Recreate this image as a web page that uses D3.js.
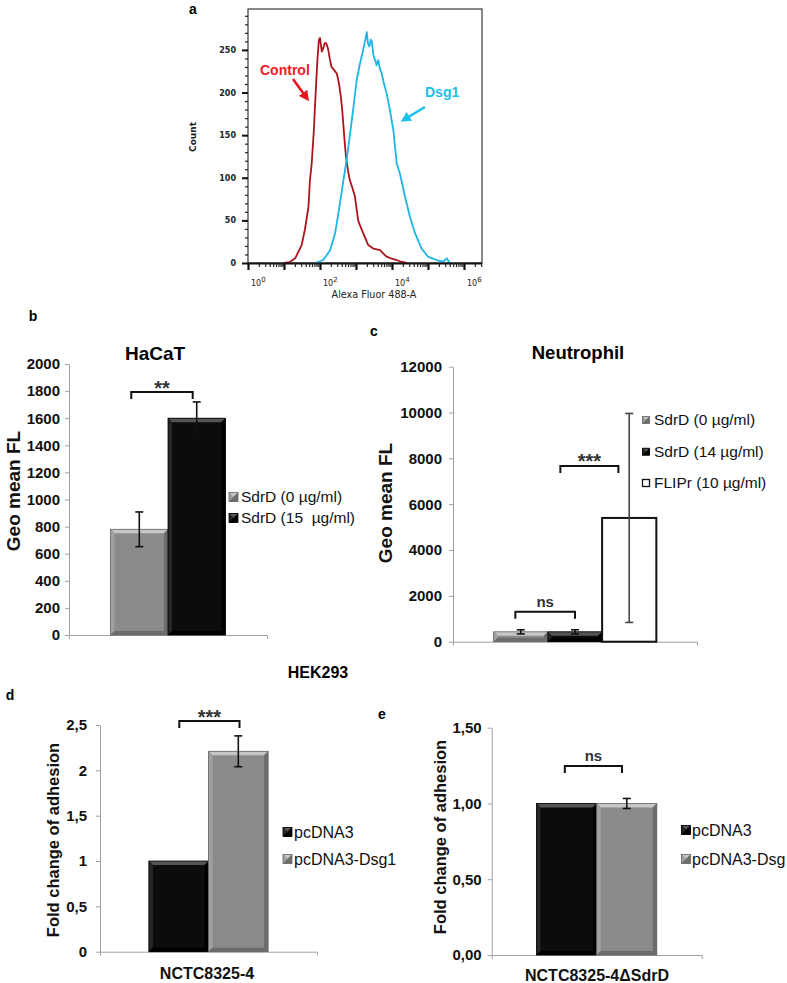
<!DOCTYPE html>
<html><head><meta charset="utf-8">
<script src="https://cdn.jsdelivr.net/npm/d3@7"></script>
<style>body{margin:0;background:#fff}svg{display:block}</style>
</head><body>
<svg id="chart" width="787" height="983"></svg>
<script>
// ---------------- DATA ----------------
// Panel a : flow cytometry histograms (log10 of fluorescence, count)
const controlLog   = [1.0,1.15,1.31,1.49,1.58,1.68,1.72,1.77,1.83,1.88,1.93,1.97,2.0,2.05,2.09,2.13,2.17,2.22,2.27,2.32,2.4,2.47,2.53,2.58,2.62,2.67,2.72,2.78,2.83,2.9,2.97,3.06,3.13,3.2,3.34,3.48,3.58,3.67,3.76,3.85,4.0,4.13,4.25,4.41];
const controlCount = [0,1,5.5,21,39,66,97,117,156,200,240,262,264,248,252,258,258,252,240,230,226,222,210,195,178,150,125,108,97,88,78,50,42,35,21,17,16,15,11,7.4,5,3.5,1.5,0];
const dsg1Log      = [1.86,2.09,2.28,2.42,2.51,2.65,2.74,2.83,2.93,3.02,3.11,3.2,3.26,3.3,3.33,3.37,3.41,3.44,3.48,3.51,3.55,3.57,3.6,3.62,3.66,3.71,3.78,3.85,3.94,4.04,4.13,4.18,4.22,4.36,4.5,4.64,4.82,5.0,5.24,5.43,5.48,5.52,5.56,5.61];
const dsg1Count    = [0,3.5,15,35,58,97,121,150,183,215,234,250,262,271,258,254,262,260,245,240,236,232,236,238,228,223,210,199,180,155,117,110,105,78,54,35,17,7.4,3.5,1.5,4,5.5,3,0];
const histYTicks   = [0,50,100,150,200,250];
const histXDecades = [0,1,2,3,4,5,6];
const histXLabels  = [0,2,4,6];

// Panel b : HaCaT
const hacatSeries = ["SdrD (0 µg/ml)", "SdrD (15  µg/ml)"];
const hacatValues = [780, 1600];
const hacatErrors = [128, 120];
const hacatTicks  = [0,200,400,600,800,1000,1200,1400,1600,1800,2000];

// Panel c : Neutrophil
const neutroSeries = ["SdrD (0 µg/ml)", "SdrD (14 µg/ml)", "FLIPr (10 µg/ml)"];
const neutroValues = [430, 430, 5400];
const neutroErrors = [90, 90, 4560];
const neutroTicks  = [0,2000,4000,6000,8000,10000,12000];

// Panel d : HEK293, NCTC8325-4
const dSeries = ["pcDNA3", "pcDNA3-Dsg1"];
const dValues = [1.0, 2.21];
const dErrors = [0, 0.17];
const dTicks  = [0,0.5,1,1.5,2,2.5];

// Panel e : HEK293, NCTC8325-4ΔSdrD
const eSeries = ["pcDNA3", "pcDNA3-Dsg"];
const eValues = [1.0, 1.0];
const eErrors = [0, 0.033];
const eTicks  = [0,0.5,1,1.5];

// ---------------- DRAWING ----------------
const svg = d3.select("#chart");
const XF = "'Liberation Sans', Arial, sans-serif";
const FF = "'DejaVu Sans', Verdana, sans-serif";

const STYLE = {
  gray:  {fill:"#8b8b8b", light:"#c6c6c6", dark:"#6c6c6c", stroke:"#666"},
  black: {fill:"#0c0c0c", light:"#555555", dark:"#000000", stroke:"#000"},
  white: {fill:"#ffffff", light:"#ffffff", dark:"#ffffff", stroke:"#111"}
};

function letter(t, x, y) {
  svg.append("text").attr("x", x).attr("y", y).attr("dy", "0.35em")
    .attr("text-anchor", "middle").attr("font-family", XF).attr("font-weight", "bold")
    .attr("font-size", 14).text(t);
}

// ---- Panel a ----
(function histogram() {
  const hx = d3.scaleLinear().domain([0, 6.5]).range([248, 482]);
  const hy = d3.scaleLinear().domain([0, 298]).range([263, 9]);
  const g = svg.append("g");

  g.append("rect").attr("x", hx(0)).attr("y", hy(298)).attr("width", hx(6.5) - hx(0))
    .attr("height", hy(0) - hy(298)).attr("fill", "none").attr("stroke", "#3a3a3a").attr("stroke-width", 1.2);

  const yMinor = d3.range(0, 300, 10);
  g.append("g").attr("transform", `translate(${hx(0)},0)`)
    .call(d3.axisLeft(hy).tickValues(yMinor).tickSize(3).tickSizeOuter(0).tickFormat(""))
    .call(s => s.select(".domain").remove())
    .call(s => s.selectAll("line").attr("stroke", "#222").attr("stroke-width", 1.2));
  g.append("g").attr("transform", `translate(${hx(0)},0)`)
    .call(d3.axisLeft(hy).tickValues(histYTicks).tickSize(6).tickSizeOuter(0).tickPadding(6))
    .call(s => s.select(".domain").remove())
    .call(s => s.selectAll("line").attr("stroke", "#111").attr("stroke-width", 2))
    .call(s => s.selectAll("text").attr("font-family", FF).attr("font-weight", "bold")
      .attr("font-size", 8).attr("fill", "#222"));

  const line = d3.line().x(d => hx(d[0])).y(d => hy(d[1]));
  const ctrl = controlLog.map((v, i) => [v, controlCount[i]]);
  const dsg = dsg1Log.map((v, i) => [v, dsg1Count[i]]);
  g.append("path").datum(ctrl).attr("d", line).attr("fill", "none")
    .attr("stroke", "#a9151b").attr("stroke-width", 1.8).attr("stroke-linejoin", "round");
  g.append("path").datum(dsg).attr("d", line).attr("fill", "none")
    .attr("stroke", "#1db4e6").attr("stroke-width", 1.8).attr("stroke-linejoin", "round");

  const minors = [];
  for (let d = 0; d < 7; d++) for (let k = 2; k <= 9; k++) {
    const v = d + Math.log10(k); if (v <= 6.5) minors.push(v);
  }
  g.append("line").attr("x1", hx(0)).attr("x2", hx(6.5)).attr("y1", hy(0) + 0.5).attr("y2", hy(0) + 0.5)
    .attr("stroke", "#111").attr("stroke-width", 2);
  g.append("g").attr("transform", `translate(0,${hy(0)})`)
    .call(d3.axisBottom(hx).tickValues(minors).tickSize(4).tickSizeOuter(0).tickFormat(""))
    .call(s => s.select(".domain").remove())
    .call(s => s.selectAll("line").attr("stroke", "#222").attr("stroke-width", 1.2));
  g.append("g").attr("transform", `translate(0,${hy(0)})`)
    .call(d3.axisBottom(hx).tickValues(histXDecades).tickSize(7).tickSizeOuter(0).tickFormat(""))
    .call(s => s.select(".domain").remove())
    .call(s => s.selectAll("line").attr("stroke", "#111").attr("stroke-width", 2.2));
  histXLabels.forEach(d => {
    const t = g.append("text").attr("x", hx(d) + 3).attr("y", 286)
      .attr("font-family", FF).attr("font-size", 8).attr("fill", "#222");
    t.append("tspan").text("10");
    t.append("tspan").attr("dy", -4).attr("font-size", 7).text(d);
  });

  g.append("text").attr("transform", "translate(193,137) rotate(-90)").attr("text-anchor", "middle")
    .attr("dy", "0.35em").attr("font-family", FF).attr("font-weight", "bold").attr("font-size", 9)
    .attr("fill", "#222").text("Count");
  g.append("text").attr("x", 374).attr("y", 298).attr("text-anchor", "middle")
    .attr("font-family", FF).attr("font-size", 9.6).attr("fill", "#222").text("Alexa Fluor 488-A");

  const defs = svg.append("defs");
  [["arR", "#e8161c"], ["arB", "#1cc0ee"]].forEach(([id, c]) => {
    defs.append("marker").attr("id", id).attr("viewBox", "0 0 10 10").attr("refX", 5).attr("refY", 5)
      .attr("markerWidth", 4).attr("markerHeight", 4).attr("orient", "auto")
      .append("path").attr("d", "M0,0L10,5L0,10z").attr("fill", c);
  });
  g.append("text").attr("x", 260).attr("y", 75).attr("font-family", XF).attr("font-weight", "bold")
    .attr("font-size", 14).attr("fill", "#ee1c24").text("Control");
  g.append("line").attr("x1", 293).attr("y1", 79).attr("x2", 306).attr("y2", 97)
    .attr("stroke", "#e8161c").attr("stroke-width", 2.6).attr("marker-end", "url(#arR)");
  g.append("text").attr("x", 425).attr("y", 97).attr("font-family", XF).attr("font-weight", "bold")
    .attr("font-size", 14).attr("fill", "#1cc0ee").text("Dsg1");
  g.append("line").attr("x1", 425).attr("y1", 107).attr("x2", 405).attr("y2", 119)
    .attr("stroke", "#1cc0ee").attr("stroke-width", 2.6).attr("marker-end", "url(#arB)");
})();
letter("a", 193, 9);

// ---- Bar panels ----
function bevelBar(g, x, yTop, w, h, st, flat) {
  if (flat) {
    g.append("rect").attr("x", x).attr("y", yTop).attr("width", w).attr("height", h)
      .attr("fill", st.fill).attr("stroke", st.stroke).attr("stroke-width", 2);
    return;
  }
  const b = Math.min(4, h / 2);
  g.append("rect").attr("x", x).attr("y", yTop).attr("width", w).attr("height", h).attr("fill", st.fill);
  const mid = d3.interpolateRgb(st.fill, st.light)(0.35);
  const poly = pts => g.append("polygon").attr("points", pts.map(p => p.join(",")).join(" "));
  poly([[x, yTop], [x + w, yTop], [x + w - b, yTop + b], [x + b, yTop + b]]).attr("fill", st.light);
  poly([[x, yTop], [x + b, yTop + b], [x + b, yTop + h - b], [x, yTop + h]]).attr("fill", mid);
  poly([[x + w, yTop], [x + w, yTop + h], [x + w - b, yTop + h - b], [x + w - b, yTop + b]]).attr("fill", st.dark);
  poly([[x, yTop + h], [x + b, yTop + h - b], [x + w - b, yTop + h - b], [x + w, yTop + h]]).attr("fill", st.dark);
  g.append("rect").attr("x", x).attr("y", yTop).attr("width", w).attr("height", h)
    .attr("fill", "none").attr("stroke", st.stroke).attr("stroke-width", 0.8);
}

function barPanel(o) {
  const g = svg.append("g");
  const y = d3.scaleLinear().domain(o.domain).range([o.y0, o.y1]);
  const xg = d3.scaleBand().domain([o.category]).range([o.xL, o.xR]).paddingInner(0).paddingOuter(o.pad);
  const xs = d3.scaleBand().domain(o.series).range([xg(o.category), xg(o.category) + xg.bandwidth()]).padding(0);

  g.append("g").attr("transform", `translate(${o.xL},0)`)
    .call(d3.axisLeft(y).tickValues(o.ticks).tickFormat(o.fmt).tickSize(4).tickSizeOuter(0).tickPadding(o.tickPad))
    .call(s => s.select(".domain").attr("stroke", "#a0a0a0"))
    .call(s => s.selectAll("line").attr("stroke", "#a0a0a0"))
    .call(s => s.selectAll("text").attr("font-family", XF).attr("font-weight", "bold")
      .attr("font-size", o.tickSize).attr("fill", "#111"));
  g.append("g").attr("transform", `translate(0,${y(0)})`)
    .call(d3.axisBottom(xg).tickValues([]).tickSizeOuter(4))
    .call(s => s.select(".domain").attr("stroke", "#a0a0a0"));

  o.series.forEach((s, i) => {
    const st = STYLE[o.fills[i]];
    const yt = y(o.values[i]);
    bevelBar(g, xs(s), yt, xs.bandwidth(), y(0) - yt, st, o.fills[i] === "white");
  });
  o.series.forEach((s, i) => {
    const e = o.errors[i];
    if (!e) return;
    const cx = xs(s) + xs.bandwidth() / 2;
    const col = o.fills[i] === "white" ? "#444" : "#111";
    const hi = y(o.values[i] + e), lo = y(o.values[i] - e);
    g.append("line").attr("x1", cx).attr("x2", cx).attr("y1", hi).attr("y2", lo)
      .attr("stroke", col).attr("stroke-width", 1.6);
    [hi, lo].forEach(v => g.append("line").attr("x1", cx - 4).attr("x2", cx + 4).attr("y1", v).attr("y2", v)
      .attr("stroke", col).attr("stroke-width", 1.6));
  });
  o.brackets.forEach(b => {
    const x1 = xs(o.series[b.a]) + xs.bandwidth() * b.fa;
    const x2 = xs(o.series[b.b]) + xs.bandwidth() * b.fb;
    const yt = y(b.v);
    g.append("path").attr("d", `M${x1},${yt + 7}V${yt}H${x2}V${yt + 7}`)
      .attr("fill", "none").attr("stroke", "#111").attr("stroke-width", 2);
    const star = b.label.startsWith("*");
    g.append("text").attr("x", (x1 + x2) / 2).attr("y", star ? yt + 2.5 : yt - 5)
      .attr("text-anchor", "middle").attr("font-family", XF).attr("font-weight", "bold")
      .attr("font-size", star ? 20 : 15).attr("fill", "#333").text(b.label);
  });
  if (o.title) g.append("text").attr("x", o.title[1]).attr("y", o.title[2]).attr("text-anchor", "middle")
    .attr("dy", "0.35em").attr("font-family", XF).attr("font-weight", "bold").attr("font-size", o.title[3]).text(o.title[0]);
  g.append("text").attr("transform", `translate(${o.ylabel[1]},${o.ylabel[2]}) rotate(-90)`)
    .attr("text-anchor", "middle").attr("dy", "0.35em").attr("font-family", XF).attr("font-weight", "bold")
    .attr("font-size", o.ylabel[3]).attr("fill", "#111").text(o.ylabel[0]);
  if (o.xlabel) g.append("text").attr("x", o.xlabel[1]).attr("y", o.xlabel[2]).attr("text-anchor", "middle")
    .attr("font-family", XF).attr("font-weight", "bold").attr("font-size", o.xlabel[3]).attr("fill", "#111").text(o.xlabel[0]);
  o.series.forEach((s, i) => {
    const st = STYLE[o.fills[i]];
    const cy = o.legend.ys[i], q = o.legend.sq;
    if (o.fills[i] === "white") {
      g.append("rect").attr("x", o.legend.x).attr("y", cy - q / 2).attr("width", q).attr("height", q)
        .attr("fill", "#fff").attr("stroke", "#111").attr("stroke-width", 1.3);
    } else {
      bevelBar(g, o.legend.x, cy - q / 2, q, q, st, false);
    }
    g.append("text").attr("x", o.legend.tx).attr("y", cy).attr("dy", "0.35em").style("white-space", "pre")
      .attr("font-family", XF).attr("font-size", o.legend.size).attr("fill", "#111").text(s);
  });
}

const fmtComma = d => String(d).replace(".", ",");
const fmtComma2 = d => d3.format(".2f")(d).replace(".", ",");

barPanel({category: "HaCaT", series: hacatSeries, values: hacatValues, errors: hacatErrors,
  ticks: hacatTicks, fmt: d => d, domain: [0, 2000], y0: 635, y1: 364, xL: 69, xR: 267, pad: 0.362,
  fills: ["gray", "black"], tickPad: 5, tickSize: 15,
  title: ["HaCaT", 155, 353, 19], ylabel: ["Geo mean FL", 13, 491, 19],
  legend: {x: 229, ys: [497, 518], sq: 9, tx: 241, size: 15.5},
  brackets: [{a: 0, fa: 0.36, b: 1, fb: 0.43, v: 1793, label: "**"}]});
letter("b", 33, 316);

barPanel({category: "Neutrophil", series: neutroSeries, values: neutroValues, errors: neutroErrors,
  ticks: neutroTicks, fmt: d => d, domain: [0, 12000], y0: 641.7, y1: 366.7, xL: 453, xR: 697, pad: 0.25,
  fills: ["gray", "black", "white"], tickPad: 7, tickSize: 15,
  title: ["Neutrophil", 578, 353, 18.5], ylabel: ["Geo mean FL", 385, 503, 19],
  legend: {x: 642.5, ys: [420, 451.7, 483], sq: 7, tx: 654, size: 15.5},
  brackets: [{a: 0, fa: 0.4, b: 1, fb: 0.5, v: 1309, label: "ns"},
             {a: 1, fa: 0.23, b: 2, fb: 0.3, v: 7667, label: "***"}]});
letter("c", 374, 331);

svg.append("text").attr("x", 318).attr("y", 672).attr("dy", "0.35em").attr("text-anchor", "middle")
  .attr("font-family", XF).attr("font-weight", "bold").attr("font-size", 16).text("HEK293");

barPanel({category: "NCTC8325-4", series: dSeries, values: dValues, errors: dErrors,
  ticks: dTicks, fmt: fmtComma, domain: [0, 2.5], y0: 951.7, y1: 725, xL: 100, xR: 317, pad: 0.41,
  fills: ["black", "gray"], tickPad: 9, tickSize: 15,
  ylabel: ["Fold change of adhesion", 53, 840, 16.5], xlabel: ["NCTC8325-4", 207, 979, 16],
  legend: {x: 283, ys: [832, 859], sq: 9, tx: 294, size: 16},
  brackets: [{a: 0, fa: 0.51, b: 1, fb: 0.52, v: 2.544, label: "***"}]});
letter("d", 10, 695);

barPanel({category: "NCTC8325-4ΔSdrD", series: eSeries, values: eValues, errors: eErrors,
  ticks: eTicks, fmt: fmtComma2, domain: [0, 1.5], y0: 955, y1: 727.7, xL: 491.7, xR: 701.7, pad: 0.373,
  fills: ["black", "gray"], tickPad: 6, tickSize: 15,
  ylabel: ["Fold change of adhesion", 440, 837, 16.5], xlabel: ["NCTC8325-4ΔSdrD", 597, 981, 16],
  legend: {x: 681.5, ys: [830, 859], sq: 9, tx: 692, size: 16},
  brackets: [{a: 0, fa: 0.47, b: 1, fb: 0.42, v: 1.247, label: "ns"}]});
letter("e", 382, 714);
</script>
</body></html>
